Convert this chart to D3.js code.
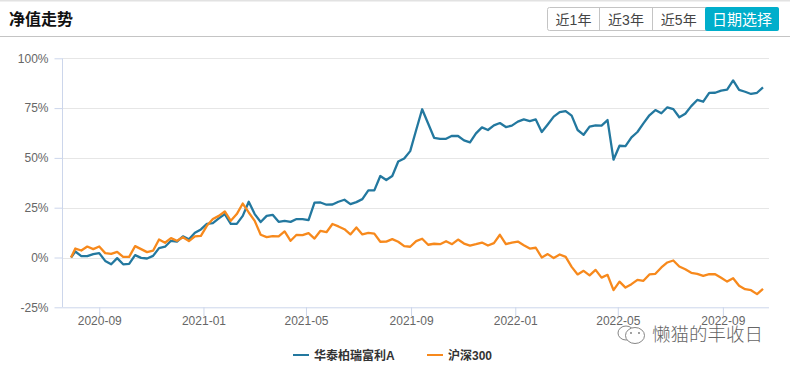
<!DOCTYPE html>
<html><head><meta charset="utf-8">
<script src="https://cdn.jsdelivr.net/npm/d3@7/dist/d3.min.js"></script>
<style>
html,body{margin:0;padding:0;background:#fff;overflow:hidden}
svg{display:block}
text{font-family:"Liberation Sans","Noto Sans CJK SC",sans-serif}
</style></head><body><div id="chart"></div>
<script>
const title = "净值走势";
const buttonLabels = ["近1年","近3年","近5年","日期选择"];
const seriesNames = ["华泰柏瑞富利A","沪深300"];
const yTicks = [-25,0,25,50,75,100];
const xTickLabels = ["2020-09","2021-01","2021-05","2021-09","2022-01","2022-05","2022-09"];
const startDate = "2020-07-30";
const firstWeekly = "2020-08-04";
const fundValues = [0,3.0,0.7,0.7,1.7,2.2,-1.7,-3.4,-0.3,-3.4,-3.2,1.2,-0.2,-0.5,0.8,4.7,5.4,8.4,8.0,10.6,9.2,12.4,14.1,16.9,17.3,19.6,21.8,16.9,16.9,20.9,28.0,21.8,17.8,20.9,21.4,17.9,18.4,17.9,19.3,19.3,18.8,27.5,27.6,26.5,26.6,28.0,29.0,26.8,27.8,29.3,33.7,33.7,40.9,38.9,40.9,48.2,49.7,53.4,64.0,74.4,67.3,60.1,59.6,59.6,61.1,61.0,58.8,57.8,62.3,65.3,64.0,66.3,67.5,65.5,66.2,68.2,69.3,68.5,69.3,63.0,66.8,70.7,73.0,73.5,71.2,64.0,61.6,65.7,66.3,66.2,69.0,49.1,56.1,55.9,60.3,63.0,67.3,71.4,74.0,72.4,75.4,74.5,70.4,72.2,76.0,79.1,78.2,82.6,82.7,83.8,84.3,88.9,84.1,83.2,82.1,82.7,85.4];
const indexValues = [0,4.5,3.5,5.5,4.2,5.5,2.2,1.8,2.8,0.3,0.3,5.7,4.2,2.7,3.4,9.0,7.4,9.7,8.4,10.2,8.2,10.6,10.9,15.9,19.3,20.9,23.1,18.4,21.8,27.1,22.6,18.4,11.4,10.2,10.7,10.6,13.1,8.4,11.4,11.2,12.2,9.5,13.4,12.7,16.8,15.6,14.2,11.6,15.1,11.6,12.4,12.0,7.9,8.0,9.2,7.9,5.7,5.4,8.2,9.4,6.4,6.9,6.7,8.2,6.7,9.0,7.0,6.0,6.7,7.5,6.0,7.2,11.4,6.7,7.5,8.0,6.2,4.5,4.9,0,1.7,-0.3,1.5,0.3,-4.7,-8.5,-6.7,-9.0,-6.2,-10.1,-8.7,-16.4,-12.1,-15.1,-13.4,-11.2,-11.7,-8.5,-8.2,-5.0,-2.5,-1.5,-4.5,-5.9,-7.7,-8.2,-9.2,-8.4,-8.4,-10.2,-12.1,-10.4,-14.2,-15.9,-16.4,-18.4,-15.7];
const seriesColors = ["#23789f","#f7891c"];

const W=790,H=368;
const parse=d3.utcParse("%Y-%m-%d"), parseM=d3.utcParse("%Y-%m");
const dates=fundValues.map((_,i)=> i===0?parse(startDate):d3.utcDay.offset(parse(firstWeekly),7*(i-1)));
const svg=d3.select("#chart").append("svg").attr("width",W).attr("height",H);
svg.append("rect").attr("width",W).attr("height",H).attr("fill","#fff");

// frame
svg.append("rect").attr("width",W).attr("height",1.5).attr("fill","#e2e2e2");
svg.append("rect").attr("y",36).attr("width",W).attr("height",1).attr("fill","#c4c4c4");
svg.append("text").text(title).attr("x",9).attr("y",25).attr("font-size",16).attr("font-weight",700).attr("fill","#111").attr("style",'font-family:"Noto Sans CJK SC"');

// buttons
const btnEdges=[547.5,599.5,652.5,705,779];
const btnG=svg.append("g");
btnG.append("rect").attr("x",547.5).attr("y",7.5).attr("width",231).attr("height",23).attr("rx",2).attr("fill","#fff").attr("stroke","#c4c4c4");
btnG.append("rect").attr("x",705).attr("y",7).attr("width",74).attr("height",24).attr("rx",2).attr("fill","#00aecb");
btnEdges.slice(1,3).forEach(x=>btnG.append("line").attr("x1",x).attr("x2",x).attr("y1",7.5).attr("y2",30.5).attr("stroke","#c4c4c4"));
buttonLabels.forEach((b,i)=>btnG.append("text").text(b).attr("x",(btnEdges[i]+btnEdges[i+1])/2).attr("y",24.5).attr("text-anchor","middle").attr("font-size",i===3?15:14).attr("fill",i===3?"#fff":"#444").attr("style",'font-family:"Liberation Sans","Noto Sans CJK SC"'));

// scales
const x=d3.scaleUtc().domain([parse("2020-07-20"),parse("2022-10-25")]).range([62.5,769]);
const y=d3.scaleLinear().domain([-25,100]).range([307.3,58.3]);

// y axis + grid
const gy=svg.append("g").attr("transform","translate(62.5,0)")
  .call(d3.axisLeft(y).tickValues(yTicks).tickSize(8).tickPadding(6).tickFormat(d=>d+"%"));
gy.selectAll(".tick line").attr("stroke","#ccd6eb");
gy.select(".domain").attr("stroke","#ccd6eb").attr("d","M0,"+y(100)+"V"+y(-25));
gy.selectAll("text").attr("font-size",12).attr("fill","#666").attr("font-family",null);
svg.append("g").selectAll("line").data(yTicks.filter(d=>d!==-25)).join("line")
  .attr("x1",63).attr("x2",769).attr("y1",d=>Math.round(y(d))+.5).attr("y2",d=>Math.round(y(d))+.5).attr("stroke","#e6e6e6");

// x axis
const gx=svg.append("g").attr("transform","translate(0,"+y(-25)+")")
  .call(d3.axisBottom(x).tickValues(xTickLabels.map(s=>parseM(s))).tickSize(9).tickPadding(0).tickFormat(d3.utcFormat("%Y-%m")));
gx.selectAll(".tick line").attr("stroke","#ccd6eb");
gx.select(".domain").attr("stroke","#ccd6eb").attr("d","M62.5,0.5H769");
gx.selectAll("text").attr("font-size",12).attr("fill","#666").attr("font-family",null);

// lines
const line=d3.line().x((d,i)=>x(dates[i])).y(d=>y(d));
svg.append("path").datum(fundValues).attr("d",line).attr("fill","none").attr("stroke",seriesColors[0]).attr("stroke-width",2.3).attr("stroke-linejoin","round");
svg.append("path").datum(indexValues).attr("d",line).attr("fill","none").attr("stroke",seriesColors[1]).attr("stroke-width",2.3).attr("stroke-linejoin","round");

// legend
const legendX=[293,427];
seriesNames.forEach((n,i)=>{
  svg.append("line").attr("x1",legendX[i]).attr("x2",legendX[i]+16).attr("y1",355).attr("y2",355).attr("stroke",seriesColors[i]).attr("stroke-width",2);
  svg.append("text").text(n).attr("x",legendX[i]+21).attr("y",359.5).attr("font-size",12).attr("font-weight",700).attr("fill","#333");
});

// watermark
const wm=svg.append("g");
const bub=(cx,cy,rx,ry)=>wm.append("ellipse").attr("cx",cx).attr("cy",cy).attr("rx",rx).attr("ry",ry).attr("fill","#fff").attr("stroke","#777").attr("stroke-width",.9);
bub(626,333,8,7); bub(635,335.5,9.5,8);
wm.append("circle").attr("cx",631).attr("cy",333).attr("r",.9).attr("fill","#777");
wm.append("circle").attr("cx",639).attr("cy",333).attr("r",.9).attr("fill","#777");
wm.append("text").text("懒猫的丰收日").attr("x",652).attr("y",341).attr("font-size",18.5).attr("fill","#666").attr("style",'font-family:"Noto Sans CJK SC";font-weight:300');
</script></body></html>
